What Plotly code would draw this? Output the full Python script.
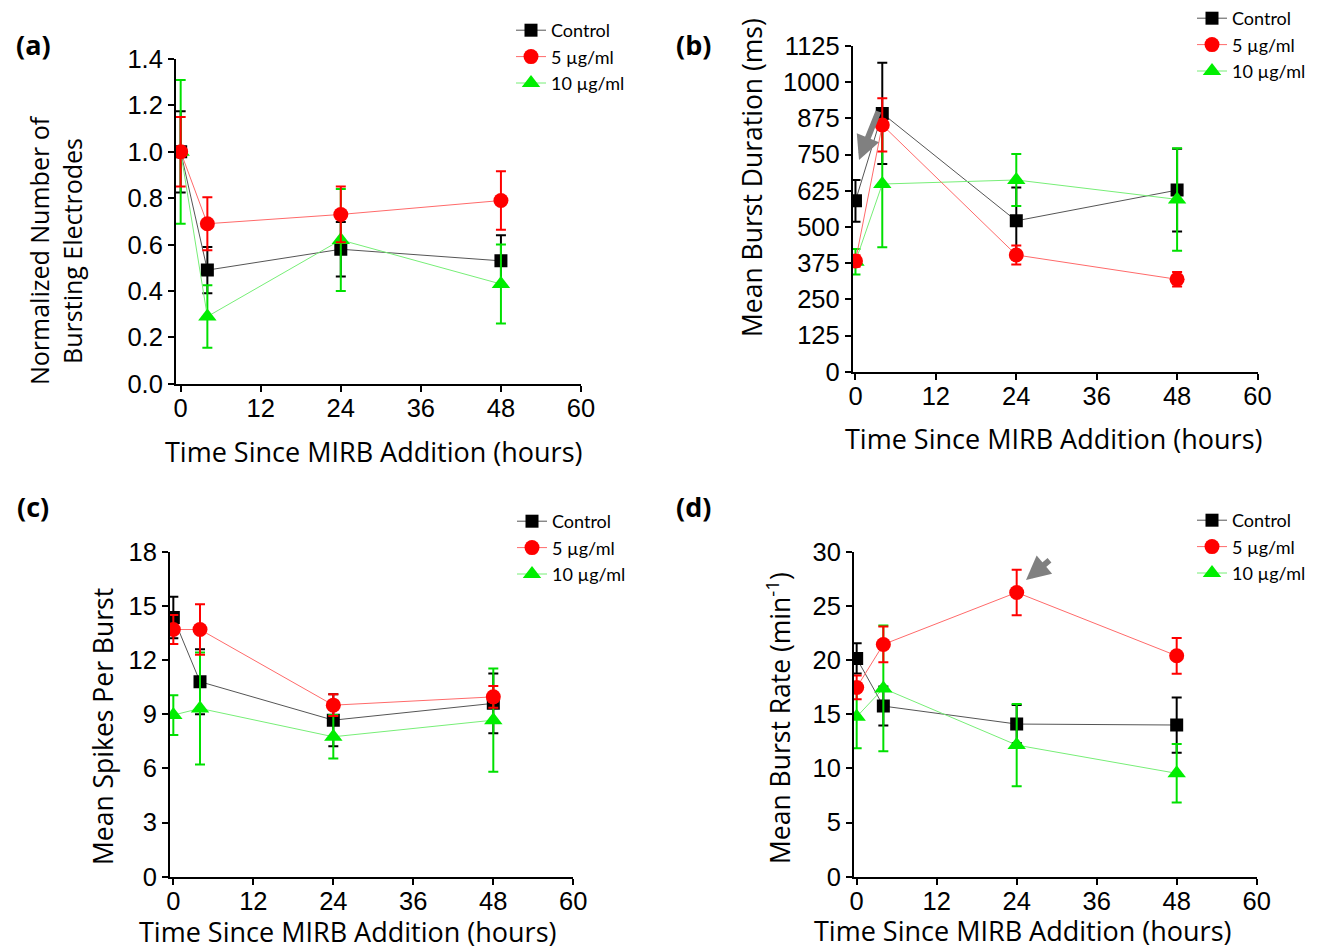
import plotly.graph_objects as go

# the page shows the figure with an 8px body margin, so the figure is made
# 8px smaller and every reference pixel position is shifted by that offset
PAGE_W, PAGE_H = 1320, 950
OFF = 8
W, H = PAGE_W - OFF, PAGE_H - OFF

# ---------------- data ----------------
time_h = [0, 4, 24, 48]
series_names = ["Control", "5 µg/ml", "10 µg/ml"]

# (a) Normalized number of bursting electrodes
a_ctrl = [1.00, 0.49, 0.58, 0.53]
a_ctrl_err = [0.175, 0.10, 0.117, 0.11]
a_5 = [1.00, 0.69, 0.73, 0.79]
a_5_err = [0.15, 0.114, 0.12, 0.126]
a_10 = [1.00, 0.29, 0.62, 0.43]
a_10_err = [0.31, 0.135, 0.22, 0.17]

# (b) Mean burst duration (ms)
b_ctrl = [590, 892, 521, 627]
b_ctrl_err = [72, 175, 115, 143]
b_5 = [382, 852, 403, 319]
b_5_err = [20, 92, 33, 25]
b_10 = [380, 648, 662, 595]
b_10_err = [44, 218, 90, 177]

# (c) Mean spikes per burst
c_ctrl = [14.36, 10.8, 8.67, 9.6]
c_ctrl_err = [1.15, 1.8, 1.44, 1.65]
c_5 = [13.69, 13.69, 9.5, 9.96]
c_5_err = [0.8, 1.4, 0.6, 0.6]
c_10 = [8.95, 9.32, 7.75, 8.67]
c_10_err = [1.1, 3.1, 1.2, 2.86]

# (d) Mean burst rate (min^-1)
d_ctrl = [20.15, 15.75, 14.09, 14.0]
d_ctrl_err = [1.4, 1.8, 1.75, 2.55]
d_5 = [17.47, 21.44, 26.24, 20.39]
d_5_err = [1.1, 1.65, 2.1, 1.65]
d_10 = [14.76, 17.38, 12.15, 9.54]
d_10_err = [2.9, 5.8, 3.8, 2.7]

x_ticks = [0, 12, 24, 36, 48, 60]

# ---------------- helpers ----------------
def px(x):
    return (x - OFF) / W

def py(y):
    return 1 - (y - OFF) / H

styles = {
    "Control": dict(sym="square", mcol="#000000", lcol="#555555", ecol="#000000", size=13),
    "5 µg/ml": dict(sym="circle", mcol="#ff0000", lcol="#ff6a6a", ecol="#ff0000", size=15),
    "10 µg/ml": dict(sym="triangle-up", mcol="#00ee00", lcol="#77ee77", ecol="#00e000", size=16),
}

fig = go.Figure()

panels = [
    dict(key="", vals=[(a_ctrl, a_ctrl_err), (a_5, a_5_err), (a_10, a_10_err)], legend="legend",
         xr=[-0.7, 60], xdom=[176, 581], yr=[0, 1.4], dt=0.2, fmt=".1f", ydom=[59, 383.8]),
    dict(key="2", vals=[(b_ctrl, b_ctrl_err), (b_5, b_5_err), (b_10, b_10_err)], legend="legend2",
         xr=[-0.4, 60], xdom=[852.8, 1257.5], yr=[0, 1125], dt=125, fmt="d", ydom=[45.9, 371.7]),
    dict(key="3", vals=[(c_ctrl, c_ctrl_err), (c_5, c_5_err), (c_10, c_10_err)], legend="legend3",
         xr=[-0.5, 60], xdom=[170, 573.3], yr=[0, 18], dt=3, fmt="d", ydom=[551.7, 876.7]),
    dict(key="4", vals=[(d_ctrl, d_ctrl_err), (d_5, d_5_err), (d_10, d_10_err)], legend="legend4",
         xr=[-0.4, 60], xdom=[854, 1256.7], yr=[0, 30], dt=5, fmt="d", ydom=[551.7, 876.7]),
]

order = [0, 2, 1]  # draw control, then 10, then 5 on top
layout_axes = {}
for p in panels:
    k = p["key"]
    for i in order:
        name = series_names[i]
        s = styles[name]
        yv, ye = p["vals"][i]
        fig.add_trace(go.Scatter(
            x=time_h, y=yv, name=name, mode="lines+markers",
            xaxis="x" + k, yaxis="y" + k, legend=p["legend"],
            legendrank=i + 1,
            line=dict(color=s["lcol"], width=1),
            marker=dict(symbol=s["sym"], color=s["mcol"], size=s["size"]),
            error_y=dict(type="data", array=ye, visible=True, color=s["ecol"], thickness=2, width=5),
        ))
    axcommon = dict(showline=True, linecolor="black", linewidth=2, ticks="outside",
                    ticklen=6, tickwidth=2, tickcolor="black", showgrid=False, zeroline=False,
                    automargin=False,
                    tickfont=dict(family="Liberation Sans, Arial", size=25.5, color="black"))
    layout_axes["xaxis" + k] = dict(axcommon, domain=[px(p["xdom"][0]), px(p["xdom"][1])],
                                    range=p["xr"], tickvals=x_ticks, anchor="y" + k,
                                    ticklabelstandoff=-5)
    layout_axes["yaxis" + k] = dict(axcommon, domain=[py(p["ydom"][1]), py(p["ydom"][0])],
                                    range=p["yr"], dtick=p["dt"], tick0=0, tickformat=p["fmt"],
                                    anchor="x" + k)

fig.update_layout(**layout_axes)

legend_font = dict(family="Lato, Open Sans", size=18, color="black")
def leg(xtext, ytop):
    return dict(x=px(xtext - 40), y=py(ytop), xanchor="left", yanchor="top",
                font=legend_font, bgcolor="rgba(0,0,0,0)", tracegroupgap=0,
                traceorder="normal", itemwidth=30)

fig.update_layout(
    width=W, height=H, plot_bgcolor="white", paper_bgcolor="white",
    margin=dict(l=0, r=0, t=0, b=0, autoexpand=False),
    legend=leg(551, 12), legend2=leg(1232, 0), legend3=leg(552, 503), legend4=leg(1232, 502),
)

annotations = []
# x-axis titles
for cx, cy in [(373, 451), (1053, 438), (347, 931), (1022, 930)]:
    annotations.append(dict(text="Time Since MIRB Addition (hours)", x=px(cx), y=py(cy),
                            xref="paper", yref="paper", showarrow=False,
                            font=dict(family="Open Sans", size=27, color="black"),
                            xanchor="center", yanchor="middle"))
# y-axis titles
for txt, cx, cy, fs in [("Normalized Number of<br>Bursting Electrodes", 56, 250, 25),
                        ("Mean Burst Duration (ms)", 752, 177, 26.5),
                        ("Mean Spikes Per Burst", 103, 727, 26.5),
                        ("Mean Burst Rate (min<sup>-1</sup>)", 778, 718, 26.5)]:
    annotations.append(dict(text=txt, x=px(cx), y=py(cy), xref="paper", yref="paper",
                            showarrow=False, font=dict(family="Open Sans", size=fs, color="black"),
                            textangle=-90, xanchor="center", yanchor="middle"))
# panel labels
for txt, cx, cy in [("(a)", 33, 45), ("(b)", 693, 45), ("(c)", 33, 506), ("(d)", 693, 506)]:
    annotations.append(dict(text="<b>%s</b>" % txt, x=px(cx), y=py(cy), xref="paper", yref="paper",
                            showarrow=False, font=dict(family="Open Sans", size=27, color="black"),
                            xanchor="center", yanchor="middle"))
# arrows (head position in paper coords, tail as pixel offset)
for hx, hy, tx, ty in [(859, 160, 879, 110), (1026, 580, 1051, 559)]:
    annotations.append(dict(x=px(hx), y=py(hy), ax=tx - hx, ay=ty - hy, xref="paper", yref="paper",
                            axref="pixel", ayref="pixel", showarrow=True, arrowhead=2,
                            arrowsize=0.8, arrowwidth=6, arrowcolor="#808080", text=""))
fig.update_layout(annotations=annotations)

fig.write_html("out.html")
